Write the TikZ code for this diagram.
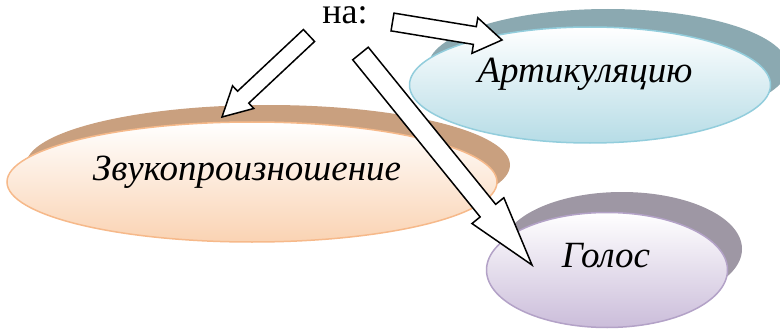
\documentclass[tikz,border=0pt]{standalone}
\usepackage{fontspec}
\setmainfont{Liberation Serif}
\usetikzlibrary{calc,shapes.geometric}
\definecolor{zvshadow}{HTML}{C9A07F}
\definecolor{zvborder}{HTML}{F6B98A}
\definecolor{zvbottom}{HTML}{FAD3B3}
\definecolor{arshadow}{HTML}{8BA9B1}
\definecolor{arborder}{HTML}{92CDDC}
\definecolor{arbottom}{HTML}{B6DCE6}
\definecolor{goshadow}{HTML}{9E97A4}
\definecolor{goborder}{HTML}{B3A2C7}
\definecolor{gobottom}{HTML}{CBBDDA}
\newcommand{\blkarrow}[6]{%
  \coordinate (#1-b) at ($(#3)!#6!(#2)$);
  \draw[blockarr] ($(#2)!#4!90:(#3)$) -- ($(#1-b)!#4!90:(#3)$) -- ($(#1-b)!#5!90:(#3)$) -- (#3)
    -- ($(#1-b)!#5!-90:(#3)$) -- ($(#1-b)!#4!-90:(#3)$) -- ($(#2)!#4!-90:(#3)$) -- cycle;
}
\tikzset{
  oval/.style={ellipse, inner sep=0pt, line width=1.5pt, top color=white},
  lbl/.style={font=\fontsize{37}{40}\selectfont\itshape, inner sep=0pt, anchor=base},
  blockarr/.style={draw=black, fill=white, line width=1.5pt, line join=miter},
}
\begin{document}
\begin{tikzpicture}[x=1pt,y=-1pt]
\useasboundingbox (0,0) rectangle (780,329);
% Zvukoproiznoshenie
\fill[zvshadow] (268,165) ellipse [x radius=242, y radius=60];
\node[oval, draw=zvborder, bottom color=zvbottom, minimum width=490pt, minimum height=120pt] (zv) at (252,182) {};
\node[lbl] (zvt) at (247,180) {Звукопроизношение};
% Artikulyaciyu
\fill[arshadow] (608,67) ellipse [x radius=180, y radius=58];
\node[oval, draw=arborder, bottom color=arbottom, minimum width=361pt, minimum height=116pt] (ar) at (590,85) {};
\node[lbl] (art) at (585,83) {Артикуляцию};
% Golos
\fill[goshadow] (622,249) ellipse [x radius=120, y radius=57];
\node[oval, draw=goborder, bottom color=gobottom, minimum width=241pt, minimum height=115pt] (go) at (607,270) {};
\node[lbl] (got) at (606,267) {Голос};
% title
\node[font=\fontsize{36}{40}\selectfont, inner sep=0pt, anchor=base, text height=17pt, text depth=0pt] (na) at (345,23.5) {на:};
% arrows
\coordinate (t1) at (309,35.5); \coordinate (p1) at (222,117);
\coordinate (t2) at (392.5,22); \coordinate (p2) at (502,40);
\coordinate (t3) at (360.5,53.5); \coordinate (p3) at (532,265);
\blkarrow{a1}{t1}{p1}{8.2pt}{15.5pt}{29pt}
\blkarrow{a2}{t2}{p2}{9pt}{18pt}{27.5pt}
\blkarrow{a3}{t3}{p3}{10pt}{20.5pt}{70pt}
\end{tikzpicture}
\end{document}
